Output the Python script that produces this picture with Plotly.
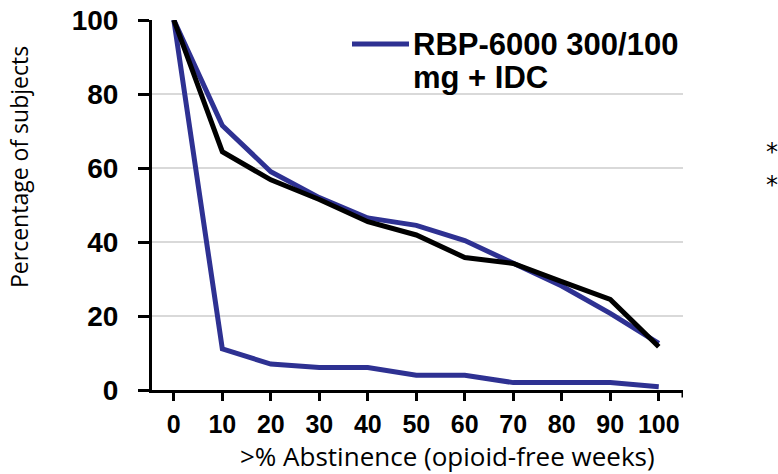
import plotly.graph_objects as go

# Abstinence thresholds (x) and percentage of subjects at or above each threshold
abstinence = [0, 10, 20, 30, 40, 50, 60, 70, 80, 90, 100]
rbp_300_100 = [100, 71.5, 59, 52, 46.5, 44.5, 40.4, 34.2, 28.1, 20.7, 12.6]
comparator = [100, 64.4, 56.8, 51.5, 45.5, 41.9, 35.8, 34.2, 29.3, 24.5, 11.7]
placebo = [100, 11.1, 7.0, 6.1, 6.1, 4.0, 4.0, 2.0, 2.0, 2.0, 0.9]

x_ticks = [0, 10, 20, 30, 40, 50, 60, 70, 80, 90, 100]
y_ticks = [0, 20, 40, 60, 80, 100]

BLUE = "#2E3192"
BOLD = "Liberation Sans, Arial, sans-serif"
PLAIN = "Open Sans, Noto Sans, sans-serif"

fig = go.Figure()
fig.add_trace(go.Scatter(x=abstinence, y=placebo, mode="lines",
                         line=dict(color=BLUE, width=5), showlegend=False))
fig.add_trace(go.Scatter(x=abstinence, y=rbp_300_100, mode="lines",
                         line=dict(color=BLUE, width=5), showlegend=False))
fig.add_trace(go.Scatter(x=abstinence, y=comparator, mode="lines",
                         line=dict(color="black", width=5), showlegend=False))

fig.update_layout(
    width=778, height=474,
    margin=dict(l=152, r=95, t=20, b=84, autoexpand=False),
    paper_bgcolor="white", plot_bgcolor="white",
    xaxis=dict(
        range=[-4.5, 105], tickvals=x_ticks, ticktext=[str(v) for v in x_ticks],
        showgrid=False, zeroline=False, automargin=False,
        showline=True, linecolor="black", linewidth=3,
        ticks="outside", ticklen=8, tickwidth=3, tickcolor="black",
        tickfont=dict(family=BOLD, size=25, color="black", weight="bold"),
        ticklabelstandoff=2,
    ),
    yaxis=dict(
        range=[0, 100], tickvals=y_ticks,
        showgrid=True, gridcolor="#d9d9d9", gridwidth=2,
        zeroline=False, automargin=False,
        showline=True, linecolor="black", linewidth=3,
        ticks="outside", ticklen=11, tickwidth=3, tickcolor="black",
        tickfont=dict(family=BOLD, size=28, color="black", weight="bold"),
        ticklabelstandoff=14,
    ),
)

# extra tick closing the category axis on the right
fig.add_shape(type="line", xref="x", yref="paper", x0=105, x1=105, y0=0, y1=-0.02,
              line=dict(color="black", width=3))

# legend key for the blue series
fig.add_shape(type="line", xref="paper", yref="paper",
              x0=(352 - 152) / 531, x1=(409 - 152) / 531,
              y0=(390 - 44) / 370, y1=(390 - 44) / 370,
              line=dict(color=BLUE, width=5))
fig.add_annotation(xref="paper", yref="paper", x=(411 - 152) / 531, y=(390 - 45) / 370,
                   xanchor="left", yanchor="middle", showarrow=False,
                   text="<b>RBP-6000 300/100</b>",
                   font=dict(family=BOLD, size=31, color="black"))
fig.add_annotation(xref="paper", yref="paper", x=(411 - 152) / 531, y=(390 - 78) / 370,
                   xanchor="left", yanchor="middle", showarrow=False,
                   text="<b>mg + IDC</b>",
                   font=dict(family=BOLD, size=31, color="black"))

# axis titles
fig.add_annotation(xref="paper", yref="paper", x=(447 - 152) / 531, y=(390 - 456) / 370,
                   xanchor="center", yanchor="middle", showarrow=False,
                   text=">% Abstinence (opioid-free weeks)",
                   font=dict(family=PLAIN, size=26, color="black"))
fig.add_annotation(xref="paper", yref="paper", x=(19 - 152) / 531, y=(390 - 167) / 370,
                   xanchor="center", yanchor="middle", showarrow=False, textangle=-90,
                   text="Percentage of subjects",
                   font=dict(family=PLAIN, size=23, color="black"))

# significance markers
for yy in (152, 185):
    fig.add_annotation(xref="paper", yref="paper", x=(772 - 152) / 531, y=(390 - yy) / 370,
                       xanchor="center", yanchor="middle", showarrow=False,
                       text="*", font=dict(family="DejaVu Sans", size=24, color="black"))

fig.write_html("out.html")
